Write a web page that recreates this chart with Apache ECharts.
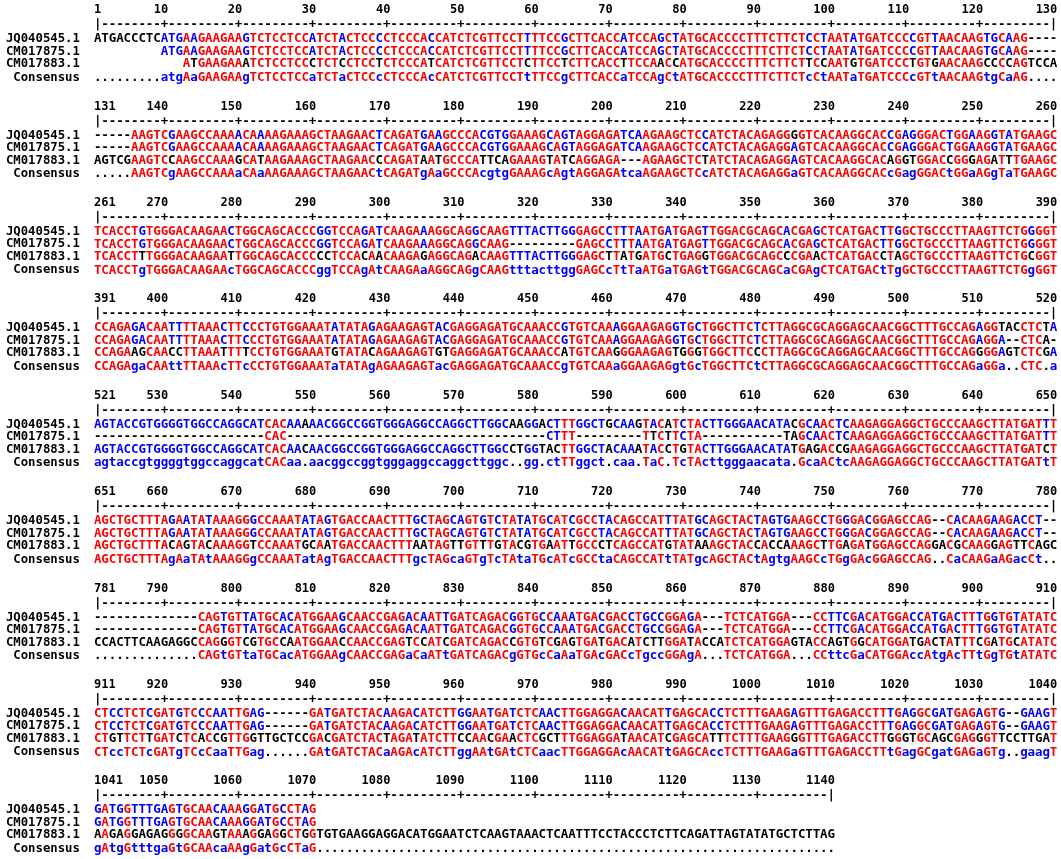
<!DOCTYPE html>
<html><head><meta charset="utf-8">
<script src="https://cdn.jsdelivr.net/npm/echarts@6/dist/echarts.min.js"></script>
<style>html,body{margin:0;padding:0;background:#fff}#c{width:1061px;height:859px}</style>
</head><body><div id="c"></div>
<script>
// ---------------- data ----------------
const seqNames = ['JQ040545.1', 'CM017875.1', 'CM017883.1'];
const consensusName = 'Consensus';
const blockStarts = [1, 131, 261, 391, 521, 651, 781, 911, 1041];
const blockEnds   = [130, 260, 390, 520, 650, 780, 910, 1040, 1140];

const seqJQ040545 = [
 'ATGACCCTCATGAAGAAGAAGTCTCCTCCATCTACTCCCCTCCCACCATCTCGTTCCTTT' + 'TCCGCTTCACCATCCAGCTATGCACCCCTTTCTTCTCCTAATATGATCCCCGTTAACAAGTGCAAG----',
 '-----AAGTCGAAGCCAAAACAAAAGAAAGCTAAGAACTCAGATGAAGCCCACGTGGAAA' + 'GCAGTAGGAGATCAAGAAGCTCCATCTACAGAGGGGTCACAAGGCACCGAGGGACTGGAAGGTATGAAGC',
 'TCACCTGTGGGACAAGAACTGGCAGCACCCGGTCCAGATCAAGAAAGGCAGGCAAGTTTA' + 'CTTGGGAGCCTTTAATGATGAGTTGGACGCAGCACGAGCTCATGACTTGGCTGCCCTTAAGTTCTGGGGT',
 'CCAGAGACAATTTTAAACTTCCCTGTGGAAATATATAGAGAAGAGTACGAGGAGATGCAA' + 'ACCGTGTCAAAGGAAGAGGTGCTGGCTTCTCTTAGGCGCAGGAGCAACGGCTTTGCCAGAGGTACCTCTA',
 'AGTACCGTGGGGTGGCCAGGCATCACAAAAACGGCCGGTGGGAGGCCAGGCTTGGCAAGG' + 'ACTTTGGCTGCAAGTACATCTACTTGGGAACATACGCAACTCAAGAGGAGGCTGCCCAAGCTTATGATTT',
 'AGCTGCTTTAGAATATAAAGGGCCAAATATAGTGACCAACTTTGCTAGCAGTGTCTATAT' + 'GCATCGCCTACAGCCATTTATGCAGCTACTAGTGAAGCCTGGGACGGAGCCAG--CACAAGAAGACCT--',
 '--------------CAGTGTTATGCACATGGAAGCAACCGAGACAATTGATCAGACGGTGCCAAATGACGACCTGCCGGAGA---TCTCATGGA---CCTTCGACATGGACCATGACTTTGGTGTATATC',
 'CTCCTCTCGATGTCCCAATTGAG------GATGATCTACAAGACATCTTGGAATGATCTCAACTTGGAGGACAACATTGAGCACCTCTTTGAAGAGTTTGAGACCTTTGAGGCGATGAGAGTG--GAAGT',
 'GATGGTTTGAGTGCAACAAAGGATGCCTAG'
];
const seqCM017875 = [
 '         ATGAAGAAGAAGTCTCCTCCATCTACTCCCCTCCCACCATCTCGTTCCTTT' + 'TCCGCTTCACCATCCAGCTATGCACCCCTTTCTTCTCCTAATATGATCCCCGTTAACAAGTGCAAG----',
 '-----AAGTCGAAGCCAAAACAAAAGAAAGCTAAGAACTCAGATGAAGCCCACGTGGAAA' + 'GCAGTAGGAGATCAAGAAGCTCCATCTACAGAGGAGTCACAAGGCACCGAGGGACTGGAAGGTATGAAGC',
 'TCACCTGTGGGACAAGAACTGGCAGCACCCGGTCCAGATCAAGAAAGGCAGGCAAG----' + '-----GAGCCTTTAATGATGAGTTGGACGCAGCACGAGCTCATGACTTGGCTGCCCTTAAGTTCTGGGGT',
 'CCAGAGACAATTTTAAACTTCCCTGTGGAAATATATAGAGAAGAGTACGAGGAGATGCAA' + 'ACCGTGTCAAAGGAAGAGGTGCTGGCTTCTCTTAGGCGCAGGAGCAACGGCTTTGCCAGAGGA--CTCA-',
 '-----------------------CAC----------------------------------' + '-CTTT---------TTCTTCTA-----------TAGCAACTCAAGAGGAGGCTGCCCAAGCTTATGATTT',
 'AGCTGCTTTAGAATATAAAGGGCCAAATATAGTGACCAACTTTGCTAGCAGTGTCTATAT' + 'GCATCGCCTACAGCCATTTATGCAGCTACTAGTGAAGCCTGGGACGGAGCCAG--CACAAGAAGACCT--',
 '--------------CAGTGTTATGCACATGGAAGCAACCGAGACAATTGATCAGACGGTGCCAAATGACGACCTGCCGGAGA---TCTCATGGA---CCTTCGACATGGACCATGACTTTGGTGTATATC',
 'CTCCTCTCGATGTCCCAATTGAG------GATGATCTACAAGACATCTTGGAATGATCTCAACTTGGAGGACAACATTGAGCACCTCTTTGAAGAGTTTGAGACCTTTGAGGCGATGAGAGTG--GAAGT',
 'GATGGTTTGAGTGCAACAAAGGATGCCTAG'
];
const seqCM017883 = [
 '            ATGAAGAAATCTCCTCCCTCTCCTCCTCTCCCATCATCTCGTTCCTCT' + 'TCCTCTTCACCTTCCAACCATGCACCCCTTTCTTCTTCCAATGTGATCCCTGTGAACAAGCCCCAGTCCA',
 'AGTCGAAGTCCAAGCCAAAGCATAAGAAAGCTAAGAACCCAGATAATGCCCATTCAGAAA' + 'GTATCAGGAGA---AGAAGCTCTATCTACAGAGGAGTCACAAGGCACAGGTGGACCGGGAGATTTGAAGC',
 'TCACCTTTGGGACAAGAATTGGCAGCACCCCCTCCACAACAAGAGAGGCAGACAAGTTTA' + 'CTTGGGAGCTTATGATGCTGAGGTGGACGCAGCCCGAACTCATGACCTAGCTGCCCTTAAGTTCTGCGGT',
 'CCAGAAGCAACCTTAAATTTTCCTGTGGAAATGTATACAGAAGAGTGTGAGGAGATGCAA' + 'ACCATGTCAAGGGAAGAGTGGGTGGCTTCCCTTAGGCGCAGGAGCAACGGCTTTGCCAGGGGAGTCTCGA',
 'AGTACCGTGGGGTGGCCAGGCATCACAACAACGGCCGGTGGGAGGCCAGGCTTGGCCTGG' + 'TACTTGGCTACAAATACCTGTACTTGGGAACATATGAGACCGAAGAGGAGGCTGCCCAAGCTTATGATCT',
 'AGCTGCTTTACAGTACAAAGGTCCAAATGCAATGACCAACTTTAATAGTTGTTTGTACGT' + 'GAATTGCCCTCAGCCATGTATAAAGCTACCACCAAAGCTTGAGATGGAGCCAGGACGCAAGGAGTTCAGC',
 'CCACTTCAAGAGGCCAGGGTCGTGCCAATGGAACCAACCGAGTCCATCGATCAGACCGTGTCGAGTGATGACATCTTGGATACCATCTCATGGAGTACCAGTGGCATGGATGACTATTTCGATGCATATC',
 'CTGTTCTTGATCTCACCGTTGGTTGCTCCGACGATCTACTAGATATCTTCCAACGAACTCG' + 'CTTTGGAGGATAACATCGAGCATTTCTTTGAAGGGTTTGAGACC' + 'TTGGGTGCAGCGAGGGTTCCTTGAT',
 'AAGAGGAGAGGGGCAAGTAAAGGAGGCTGGTGTGAAGGAGGACATGGAATCTCAAGTAAACTCAATTTCCTACCCTCTTCAGATTAGTATATGCTCTTAG'
];

// ---------------- layout / style ----------------
const CELL = 7.41, X0 = 94, TOP0 = 10, BLOCK_STEP = 96.4;
const ROW_OFF = [0, 15, 29, 41.5, 54, 67.5]; // numbers, ruler, seq1..3, consensus
const RED = '#ff0000', BLUE = '#0000ff', BLACK = '#000000';
const FONTS = {
  num: 'bold 12px "DejaVu Sans Mono"',
  ruler: 'bold 12.5px "DejaVu Sans Mono"',
  name: 'bold 12.3px "DejaVu Sans Mono"',
  res: 'bold 12.5px "DejaVu Sans Mono"'
};

const seqs = [seqJQ040545, seqCM017875, seqCM017883];
const items = [];
function add(x, y, t, c, a, k) { items.push({ x, y, t, c, a, k }); }

blockStarts.forEach((start, b) => {
  const end = blockEnds[b];
  const len = end - start + 1;
  const yb = TOP0 + b * BLOCK_STEP;
  add(-0.5, yb + ROW_OFF[0], String(start), BLACK, 'left', 'num');
  for (let p = Math.ceil((start + 1) / 10) * 10; p <= end; p += 10) {
    add(p - start + 0.5, yb + ROW_OFF[0], String(p), BLACK, 'right', 'num');
  }
  for (let c = 0; c < len; c++) {
    const pos = start + c;
    const ch = (c === 0 || c === len - 1) ? '|' : (pos % 10 === 0 ? '+' : '-');
    add(c, yb + ROW_OFF[1], ch, BLACK, 'center', 'ruler');
  }
  seqNames.forEach((n, i) => add(-2.4, yb + ROW_OFF[2 + i], n, BLACK, 'right', 'name'));
  add(-2.4, yb + ROW_OFF[5], consensusName, BLACK, 'right', 'name');
  let lastCons = -1;
  const colData = [];
  for (let c = 0; c < len; c++) {
    const res = seqs.map(s => (s[b][c] || ' ').toUpperCase());
    const counts = {};
    res.forEach(r => { if (r !== '-' && r !== ' ') counts[r] = (counts[r] || 0) + 1; });
    let best = null, bc = 0;
    Object.keys(counts).forEach(k => { if (counts[k] > bc) { bc = counts[k]; best = k; } });
    if (res.some(r => r !== ' ')) lastCons = c;
    colData.push({ res, best, bc });
  }
  colData.forEach((d, c) => {
    d.res.forEach((r, i) => {
      if (r === ' ') return;
      let col = BLACK;
      if (r === d.best && d.bc === 3) col = RED;
      else if (r === d.best && d.bc === 2) col = BLUE;
      add(c, yb + ROW_OFF[2 + i], r, col, 'center', 'res');
    });
    if (c <= lastCons) {
      let ch = '.', col = BLACK;
      if (d.bc === 3) { ch = d.best; col = RED; }
      else if (d.bc === 2) { ch = d.best.toLowerCase(); col = BLUE; }
      add(c, yb + ROW_OFF[5], ch, col, 'center', 'res');
    }
  });
});

// ---------------- chart ----------------
const chart = echarts.init(document.getElementById('c'), null, { renderer: 'canvas' });
chart.setOption({
  animation: false,
  backgroundColor: '#ffffff',
  grid: { left: X0, top: 0, width: 130 * CELL, height: 859 },
  xAxis: { type: 'value', min: -0.5, max: 129.5, show: false },
  yAxis: { type: 'value', min: 0, max: 859, inverse: true, show: false },
  series: [{
    type: 'custom',
    coordinateSystem: 'cartesian2d',
    progressive: 0,
    clip: false,
    silent: true,
    data: items.map(d => [d.x, d.y]),
    renderItem: function (params, api) {
      const d = items[params.dataIndex];
      const p = api.coord([api.value(0), api.value(1)]);
      return {
        type: 'text', x: p[0], y: p[1], silent: true,
        style: { text: d.t, fill: d.c, font: FONTS[d.k], align: d.a, verticalAlign: 'middle' }
      };
    }
  }]
});
</script>
</body></html>
